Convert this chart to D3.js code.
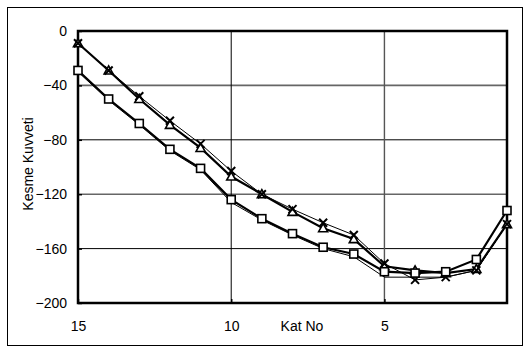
<!DOCTYPE html>
<html><head><meta charset="utf-8">
<script src="https://cdn.jsdelivr.net/npm/d3@7"></script>
<style>body{margin:0;background:#fff}svg{display:block}text{font-family:"Liberation Sans",Arial,sans-serif;font-size:14px;fill:#000}</style>
</head><body>
<svg id="c" width="525" height="352"></svg>
<script>
const katNo = [15,14,13,12,11,10,9,8,7,6,5,4,3,2,1];
const seriesTriangle = [-9,-29,-50,-69,-86,-107,-120,-133,-145,-153,-173,-176,-178,-175,-142];
const seriesCross    = [-9,-29,-48,-66,-83,-103,-120,-131,-141,-150,-171,-183,-181,-176,-142];
const seriesSquare   = [-29,-50,-68,-87,-101,-124,-138,-149,-159,-164,-177,-178,-177,-168,-132];
const seriesPlain    = [-30,-51,-69,-88,-102,-126,-139,-150,-160,-166,-181,-181,-181,-176,-142];
const xTicks = [15,10,5];
const yTicks = [0,-40,-80,-120,-160,-200];

const svg = d3.select("#c");
const L=78,R=507,T=31,B=303;
const x = d3.scaleLinear().domain([15,1]).range([L,R]);
const y = d3.scaleLinear().domain([-200,0]).range([B,T]);
const FONT = "Liberation Sans, Arial, sans-serif";

svg.append("rect").attr("x",7.5).attr("y",7.5).attr("width",515).attr("height",338)
  .attr("fill","none").attr("stroke","#000").attr("stroke-width",1);

// gridlines
const grayY = new Set([-40,-120]);
svg.append("g").selectAll("line").data(yTicks.filter(d=>d>-200&&d<0)).join("line")
  .attr("x1",L).attr("x2",R).attr("y1",d=>y(d)).attr("y2",d=>y(d))
  .attr("stroke",d=>grayY.has(d)?"#666":"#000").attr("stroke-width",d=>grayY.has(d)?1.6:1);
svg.append("g").selectAll("line").data(xTicks.filter(d=>d!==15)).join("line")
  .attr("y1",T).attr("y2",B).attr("x1",d=>x(d)).attr("x2",d=>x(d))
  .attr("stroke",d=>d===5?"#555":"#000").attr("stroke-width",d=>d===5?1.4:1);

// axes (inner ticks)
const ya = svg.append("g").attr("transform",`translate(${L},0)`)
  .call(d3.axisLeft(y).tickValues(yTicks).tickSize(-4).tickPadding(11).tickFormat(d3.format("d")));
ya.select(".domain").remove();
ya.selectAll("line").attr("stroke-width",1.5);
ya.selectAll("text").style("font-family",FONT).style("font-size","14px");
const xa = svg.append("g").attr("transform",`translate(0,${B})`)
  .call(d3.axisBottom(x).tickValues(xTicks).tickSize(-4).tickPadding(18).tickFormat(d3.format("d")));
xa.select(".domain").remove();
xa.selectAll("line").attr("stroke-width",1.5);
xa.selectAll("text").style("font-family",FONT).style("font-size","14px");

svg.append("rect").attr("x",L).attr("y",T).attr("width",R-L).attr("height",B-T)
  .attr("fill","none").attr("stroke","#000").attr("stroke-width",2.5);

svg.append("text").attr("x",302).attr("y",331).attr("text-anchor","middle").text("Kat No");
svg.append("text").attr("transform","translate(33,164) rotate(-90)").attr("text-anchor","middle").text("Kesme Kuvveti");

const line = d3.line().x((d,i)=>x(katNo[i])).y(d=>y(d));
function drawLine(vals,w){svg.append("path").attr("d",line(vals)).attr("fill","none").attr("stroke","#000").attr("stroke-width",w).attr("stroke-linejoin","miter");}
drawLine(seriesPlain,1);
drawLine(seriesSquare,2.2);
drawLine(seriesCross,1);
drawLine(seriesTriangle,2.2);

// markers
svg.append("g").selectAll("path").data(seriesTriangle).join("path")
  .attr("transform",(d,i)=>`translate(${x(katNo[i])},${y(d)})`)
  .attr("d","M0,-4.5L4.5,3.5L-4.5,3.5Z").attr("fill","#fff").attr("stroke","#000").attr("stroke-width",1.6);
svg.append("g").selectAll("path").data(seriesCross).join("path")
  .attr("transform",(d,i)=>`translate(${x(katNo[i])},${y(d)})`)
  .attr("d","M-4,-4L4,4M4,-4L-4,4").attr("fill","none").attr("stroke","#000").attr("stroke-width",2);
svg.append("g").selectAll("rect").data(seriesSquare).join("rect")
  .attr("x",(d,i)=>x(katNo[i])-4).attr("y",d=>y(d)-4).attr("width",8).attr("height",8)
  .attr("fill","#fff").attr("stroke","#000").attr("stroke-width",1.6);
</script>
</body></html>
